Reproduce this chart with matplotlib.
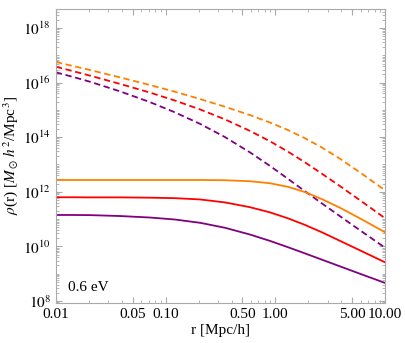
import numpy as np
import matplotlib.pyplot as plt
from matplotlib.ticker import FixedLocator, FixedFormatter, LogLocator, NullFormatter

plt.rcParams['font.family'] = ['Liberation Serif', 'DejaVu Serif']
plt.rcParams['mathtext.fontset'] = 'stix'

# radius [Mpc/h]
r = [0.01, 0.01429, 0.02042, 0.0383, 0.0719, 0.1216, 0.2056, 0.3475,
     0.5861, 0.8933, 1.303, 1.862, 2.661, 3.882, 6.152, 10.0]

# log10 densities
dash_orange = [16.755, 16.608, 16.462, 16.192, 15.912, 15.665, 15.399, 15.115,
               14.810, 14.538, 14.260, 13.960, 13.619, 13.209, 12.659, 12.051]
dash_red    = [16.582, 16.421, 16.256, 15.954, 15.636, 15.342, 15.018, 14.652,
               14.231, 13.850, 13.469, 13.077, 12.659, 12.205, 11.637, 11.029]
dash_purple = [16.377, 16.209, 16.033, 15.681, 15.286, 14.910, 14.489, 14.004,
               13.445, 12.947, 12.473, 12.018, 11.571, 11.103, 10.538, 9.949]
sol_orange  = [12.432, 12.432, 12.432, 12.432, 12.432, 12.432, 12.432, 12.423,
               12.386, 12.313, 12.181, 11.989, 11.729, 11.414, 10.985, 10.513]
sol_red     = [11.799, 11.799, 11.795, 11.795, 11.784, 11.766, 11.720, 11.610,
               11.436, 11.245, 11.027, 10.786, 10.513, 10.201, 9.819, 9.414]
sol_purple  = [11.150, 11.150, 11.145, 11.112, 11.057, 10.984, 10.864, 10.681,
               10.434, 10.200, 9.969, 9.742, 9.511, 9.267, 8.969, 8.659]

orange = (1.0, 0.5, 0.0)
red = (1.0, 0.0, 0.0)
purple = (0.5, 0.0, 0.5)

fig = plt.figure(figsize=(4.05, 3.43), dpi=100)
ax = fig.add_axes([0.138, 0.117, 0.813, 0.857])

for vals, c in [(dash_orange, orange), (dash_red, red), (dash_purple, purple)]:
    ax.plot(r, 10 ** np.array(vals), color=c, lw=1.3, ls=(0, (3.5, 2)))
for vals, c in [(sol_orange, orange), (sol_red, red), (sol_purple, purple)]:
    ax.plot(r, 10 ** np.array(vals), color=c, lw=1.3)

ax.set_xscale('log')
ax.set_yscale('log')
ax.set_xlim(0.01, 10)
ax.set_ylim(10 ** 7.93, 10 ** 18.7)

xt = [0.01, 0.05, 0.1, 0.5, 1, 5, 10]
xl = ['0.01', '0.05', '0.10', '0.50', '1.00', '5.00', '10.00']
ax.xaxis.set_major_locator(FixedLocator(xt))
ax.xaxis.set_major_formatter(FixedFormatter(xl))
ax.xaxis.set_minor_locator(LogLocator(base=10, subs=np.arange(2, 10)))
ax.xaxis.set_minor_formatter(NullFormatter())

yt = [1e8, 1e10, 1e12, 1e14, 1e16, 1e18]
ax.yaxis.set_major_locator(FixedLocator(yt))
ax.yaxis.set_major_formatter(FixedFormatter([r'$10^{%d}$' % k for k in range(8, 19, 2)]))
ax.yaxis.set_minor_locator(LogLocator(base=10, subs=np.arange(1, 10), numticks=30))
ax.yaxis.set_minor_formatter(NullFormatter())

for s in ax.spines.values():
    s.set_color('#aaaaaa')
ax.tick_params(which='both', direction='in', top=True, right=True, colors='#aaaaaa',
               labelcolor='black', labelsize=11)
ax.tick_params(which='major', length=4)
ax.tick_params(which='minor', length=2)

ax.set_xlabel('r [Mpc/h]', fontsize=11, labelpad=2)
ax.set_ylabel(r'$\rho$(r) [$M_\odot\,h^2$/Mpc$^3$]', fontsize=11, labelpad=2)
ax.text(0.0129, 10 ** 8.5, '0.6 eV', fontsize=11, va='center')

fig.savefig('out.png', dpi=100)
